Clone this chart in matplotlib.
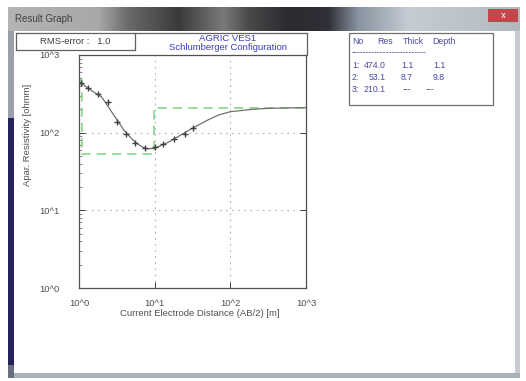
import numpy as np
import matplotlib
matplotlib.use("Agg")
import matplotlib.pyplot as plt
from matplotlib.patches import Rectangle
from matplotlib.lines import Line2D

# ---------------- data ----------------
ab2_obs = [1.05, 1.3, 1.8, 2.4, 3.2, 4.2, 5.5, 7.5, 10, 13, 18, 25, 32]
rho_obs = [441, 378, 311, 245, 138, 95, 73, 63, 66, 71, 83, 95, 114]

ab2_calc = [1, 1.5, 2, 3, 4, 5, 6, 7, 8, 10, 15, 20, 30, 50, 70, 100, 200, 300, 500, 1000]
rho_calc = [455, 343, 287, 159, 105, 83, 71, 65, 62, 63, 75, 88, 111, 145, 169, 186, 200, 205, 208, 210]

layer_res = [474.0, 53.1, 210.1]
layer_thick = [1.1, 8.7]
layer_depth = [1.1, 9.8]

tick_vals = [1, 10, 100, 1000]
tick_labels = ["10^0", "10^1", "10^2", "10^3"]

title1 = "AGRIC VES1"
title2 = "Schlumberger Configuration"
rms_text = "RMS-error :   1.0"
xlabel = "Current Electrode Distance (AB/2) [m]"
ylabel = "Apar. Resistivity [ohmm]"

# ---------------- figure ----------------
W, H = 526, 381
fig = plt.figure(figsize=(W / 100, H / 100), dpi=100)
fig.patch.set_facecolor("white")
FONT = "Liberation Sans"
FS = 6.8


def px(x, y):
    return x / W, 1 - y / H


def rect(x0, y0, x1, y1, **kw):
    fig.patches.append(Rectangle((x0 / W, 1 - y1 / H), (x1 - x0) / W, (y1 - y0) / H,
                                 transform=fig.transFigure, **kw))


def line(xs, ys, **kw):
    fig.lines.append(Line2D([x / W for x in xs], [1 - y / H for y in ys],
                            transform=fig.transFigure, **kw))


# window frame
rect(8, 7, 520, 378, facecolor="#b8bcc4", edgecolor="none", zorder=0)
# title bar gradient
tb = fig.add_axes([8 / W, 1 - 31 / H, 512 / W, 24 / H], zorder=1)
stops_x = [0, 90, 120, 170, 215, 240, 280, 320, 350, 400, 470, 512]
stops_c = ["#b4b4b4", "#a8a8a8", "#6a6a6a", "#3a3a3a", "#7a7a7a", "#4a4a4a",
           "#2a2a30", "#303038", "#8894a0", "#c4ccd4", "#b8c0c8", "#b0b8c0"]
cols = np.array([matplotlib.colors.to_rgb(c) for c in stops_c])
xs = np.arange(512)
grad = np.stack([np.interp(xs, stops_x, cols[:, k]) for k in range(3)], axis=-1)
tb.imshow(grad[None, :, :], aspect="auto", extent=[0, 512, 0, 1])
tb.set_axis_off()
tb.text(7, 0.5, "Result Graph", fontsize=7, color="#404040", va="center", family=FONT)
rect(488, 9, 518, 22, facecolor="#c04848", edgecolor="none", zorder=2)
fig.text(*px(503, 15.5), "x", fontsize=6, color="white", ha="center", va="center", zorder=3)
# left border
rect(8, 31, 14, 118, facecolor="#9aa0a8", edgecolor="none", zorder=1)
rect(8, 118, 14, 365, facecolor="#24245a", edgecolor="none", zorder=1)
rect(8, 365, 14, 378, facecolor="#6a7080", edgecolor="none", zorder=1)
# bottom / right border
rect(14, 373, 520, 378, facecolor="#a8b0b8", edgecolor="none", zorder=1)
rect(515, 31, 520, 373, facecolor="#c8ccd2", edgecolor="none", zorder=1)
# client area
rect(14, 31, 515, 373, facecolor="white", edgecolor="none", zorder=1)

# ---------------- axes ----------------
ax = fig.add_axes([79 / W, 1 - 288 / H, 227 / W, 233 / H], zorder=3)
ax.set_xscale("log")
ax.set_yscale("log")
ax.set_xlim(1, 1000)
ax.set_ylim(1, 1000)

ax.grid(True, which="major", linestyle=(0, (1.5, 4)), color="#b0b0b0", linewidth=0.8)

green = "#7fd27f"
# layered model (step curve)
mx = [1, layer_depth[0], layer_depth[0], layer_depth[1], layer_depth[1], 1000]
my = [layer_res[0], layer_res[0], layer_res[1], layer_res[1], layer_res[2], layer_res[2]]
ax.plot(mx, my, color=green, linewidth=1.1, linestyle=(0, (6, 4)), zorder=2)

ax.plot(ab2_calc, rho_calc, color="#707070", linewidth=0.9, zorder=3)
ax.plot(ab2_obs, rho_obs, linestyle="none", marker="+", markersize=5,
        markeredgewidth=1.0, color="#404040", zorder=4)

ax.set_xticks(tick_vals)
ax.set_xticklabels(tick_labels)
ax.set_yticks(tick_vals)
ax.set_yticklabels(tick_labels)
ax.tick_params(which="major", direction="in", length=4, width=0.7, colors="#404040",
               labelsize=FS, right=True, top=False, pad=8)
ax.tick_params(which="minor", direction="in", length=2, width=0.5, colors="#606060",
               left=True, right=False, bottom=False, top=False)
ax.tick_params(axis="y", pad=14)
for lab in ax.get_xticklabels() + ax.get_yticklabels():
    lab.set_family(FONT)
    lab.set_color("#505050")
for s in ax.spines.values():
    s.set_color("#505050")
    s.set_linewidth(0.9)

fig.text(*px(200, 314), xlabel, fontsize=FS, color="#505050", ha="center", va="center",
         family=FONT, zorder=4)
fig.text(*px(28, 135), ylabel, fontsize=FS, color="#505050", ha="center", va="center",
         rotation=90, family=FONT, zorder=4)

# ---------------- title boxes ----------------
bc = "#606060"
line([16, 307], [33, 33], color=bc, linewidth=0.9, zorder=4)
line([16, 135], [50, 50], color=bc, linewidth=0.9, zorder=4)
line([16, 16], [33, 50], color=bc, linewidth=0.9, zorder=4)
line([135, 135], [33, 50], color=bc, linewidth=0.9, zorder=4)
line([307, 307], [33, 55], color=bc, linewidth=0.9, zorder=4)
fig.text(*px(75, 42), rms_text, fontsize=FS, color="#404040", ha="center", va="center",
         family=FONT, zorder=5)
fig.text(*px(228, 38.5), title1, fontsize=FS, color="#3c3cc0", ha="center", va="center",
         family=FONT, zorder=5)
fig.text(*px(228, 47.5), title2, fontsize=FS, color="#3c3cc0", ha="center", va="center",
         family=FONT, zorder=5)

# ---------------- layer table ----------------
rect(349, 33, 493, 105, facecolor="white", edgecolor="#707070", linewidth=0.9, zorder=4)
tc = "#4a4aa0"
TS = 6.3
hdr = [("No", 352), ("Res", 377), ("Thick", 403), ("Depth", 432)]
for t, x in hdr:
    fig.text(*px(x, 42), t, fontsize=TS, color=tc, ha="left", va="center", family=FONT, zorder=5)
fig.text(*px(352, 53), "-" * 26, fontsize=TS, color=tc, ha="left", va="center",
         family=FONT, zorder=5)
rows_y = [65, 77, 90]
for i, r in enumerate(layer_res):
    y = rows_y[i]
    fig.text(*px(352, y), f"{i + 1}:", fontsize=TS, color=tc, ha="left", va="center",
             family=FONT, zorder=5)
    fig.text(*px(386, y), f"{r:.1f}", fontsize=TS, color=tc, ha="right", va="center",
             family=FONT, zorder=5)
    if i < len(layer_thick):
        fig.text(*px(401, y), f"{layer_thick[i]:.1f}", fontsize=TS, color=tc, ha="left",
                 va="center", family=FONT, zorder=5)
        fig.text(*px(433, y), f"{layer_depth[i]:.1f}", fontsize=TS, color=tc, ha="left",
                 va="center", family=FONT, zorder=5)
    else:
        fig.text(*px(403, y), "---", fontsize=TS, color=tc, ha="left", va="center",
                 family=FONT, zorder=5)
        fig.text(*px(426, y), "---", fontsize=TS, color=tc, ha="left", va="center",
                 family=FONT, zorder=5)

fig.savefig("out.png", dpi=100)
